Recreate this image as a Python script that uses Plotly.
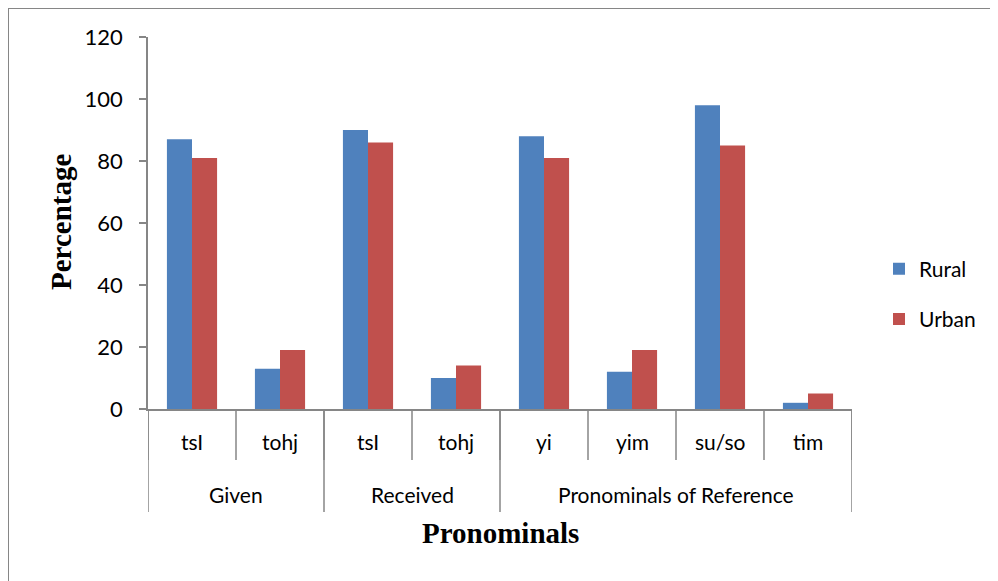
import plotly.graph_objects as go

groups = ["Given", "Given", "Received", "Received",
          "Pronominals of Reference", "Pronominals of Reference",
          "Pronominals of Reference", "Pronominals of Reference"]
pronouns = ["tsI", "tohj", "tsI", "tohj", "yi", "yim", "su/so", "tim"]
rural = [87, 13, 90, 10, 88, 12, 98, 2]
urban = [81, 19, 86, 14, 81, 19, 85, 5]
y_ticks = [0, 20, 40, 60, 80, 100, 120]

OFF = 8  # page body margin offset
W, H = 998 - OFF, 581 - OFF
# target-pixel positions of plot area
L, R, T, B = 148 - OFF, 852 - OFF, 37 - OFF, 409 - OFF
PW, PH = R - L, B - T
GRAY = "#868686"
SANS = "Lato, Carlito, sans-serif"
SERIF = "Liberation Serif, Times New Roman, serif"

idx = list(range(len(pronouns)))

def px_x(p):  # target pixel -> paper x
    return (p - OFF - L) / PW

def px_y(p):  # target pixel -> paper y
    return (B - (p - OFF)) / PH

fig = go.Figure()
fig.add_trace(go.Bar(name="Rural", x=idx, y=rural, legendgroup="r",
                     marker=dict(color="#4F81BD", line=dict(width=0))))
fig.add_trace(go.Bar(name="Urban", x=idx, y=urban, legendgroup="u",
                     marker=dict(color="#C0504D", line=dict(width=0))))

fig.update_layout(
    width=W, height=H,
    margin=dict(l=L, r=W - R, t=T, b=H - B, autoexpand=False),
    paper_bgcolor="white", plot_bgcolor="white",
    barmode="group", bargap=0.43, bargroupgap=0,
    font=dict(family=SANS, size=22, color="black"),
    legend=dict(x=px_x(879), y=px_y(294), yanchor="middle", xanchor="left",
                font=dict(size=21), tracegroupgap=20,
                bgcolor="rgba(0,0,0,0)"),
    showlegend=True,
)
fig.update_xaxes(
    range=[-0.5, len(pronouns) - 0.5],
    showline=True, linecolor=GRAY, linewidth=2,
    showticklabels=False, ticks="", showgrid=False, zeroline=False,
    automargin=False,
)
fig.update_yaxes(
    range=[0, 120], tickvals=y_ticks,
    showline=True, linecolor=GRAY, linewidth=1.5,
    ticks="outside", ticklen=7, tickcolor=GRAY, tickwidth=1.5,
    ticklabelstandoff=12,
    showgrid=False, zeroline=False,
    tickfont=dict(size=22), automargin=False,
)

# sub-category labels and separators
for i, name in enumerate(pronouns):
    fig.add_annotation(x=i, y=px_y(441), xref="x", yref="paper", text=name,
                       showarrow=False, font=dict(size=21), yanchor="middle")
for i in range(len(pronouns) + 1):
    fig.add_shape(type="line", xref="x", yref="paper",
                  x0=i - 0.5, x1=i - 0.5, y0=0, y1=px_y(460),
                  line=dict(color=GRAY, width=1.5))

# group labels and dividers
bounds = [0]
for i in range(1, len(groups)):
    if groups[i] != groups[i - 1]:
        bounds.append(i)
bounds.append(len(groups))
for a, b in zip(bounds[:-1], bounds[1:]):
    fig.add_annotation(x=(a + b - 1) / 2, y=px_y(494), xref="x", yref="paper",
                       text=groups[a], showarrow=False, font=dict(size=21),
                       yanchor="middle")
for bnd in bounds:
    fig.add_shape(type="line", xref="x", yref="paper",
                  x0=bnd - 0.5, x1=bnd - 0.5, y0=0, y1=px_y(512),
                  line=dict(color=GRAY, width=1.5))

# axis titles
fig.add_annotation(x=px_x(500), y=px_y(533), xref="paper", yref="paper",
                   text="<b>Pronominals</b>", showarrow=False,
                   font=dict(family=SERIF, size=29), yanchor="middle")
fig.add_annotation(x=px_x(61), y=px_y(222), xref="paper", yref="paper",
                   text="<b>Percentage</b>", showarrow=False, textangle=-90,
                   font=dict(family=SERIF, size=29), xanchor="center", yanchor="middle")

# outer chart border (top and left edges visible)
fig.add_shape(type="line", xref="paper", yref="paper",
              x0=px_x(8), x1=px_x(1010), y0=px_y(8), y1=px_y(8),
              line=dict(color=GRAY, width=2))
fig.add_shape(type="line", xref="paper", yref="paper",
              x0=px_x(8), x1=px_x(8), y0=px_y(8), y1=px_y(600),
              line=dict(color=GRAY, width=2))

fig.write_html("out.html")
